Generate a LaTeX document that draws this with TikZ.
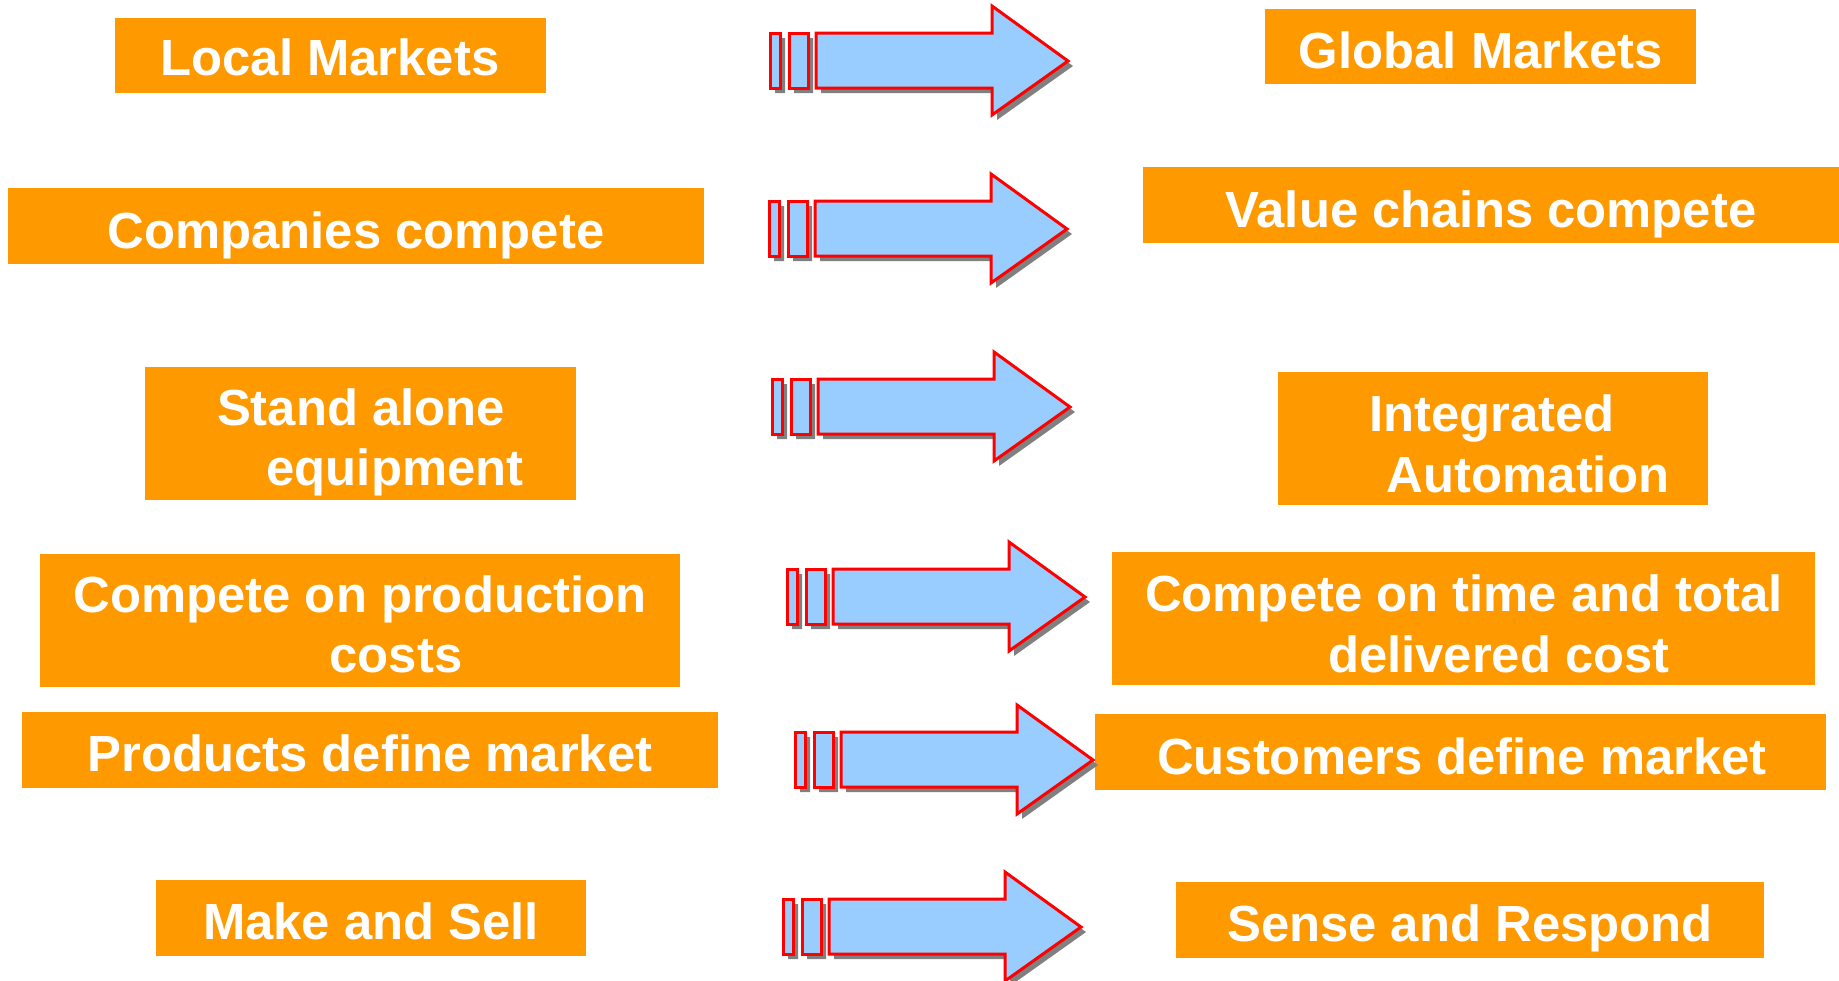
\documentclass[tikz,border=0pt]{standalone}
\usepackage{fontspec}
\setmainfont{Liberation Sans}
\definecolor{boxorange}{HTML}{FF9900}
\definecolor{arrowblue}{HTML}{99CCFF}
\definecolor{arrowred}{HTML}{FF0000}
\definecolor{shadowgray}{HTML}{808080}
\tikzset{
  box/.style={fill=boxorange, draw=none},
  lbl/.style={text=white, inner sep=0pt, anchor=base, font=\bfseries\fontsize{50.8}{60}\selectfont},
  arrowst/.style={fill=arrowblue, draw=arrowred, line width=3pt, line join=miter},
  pics/fatarrow/.style={code={
    \fill[shadowgray, shift={(5,5)}]
      (0,-28) rectangle (10,27) (19,-28) rectangle (38,27)
      (46,-28) -- (222,-28) -- (222,-55) -- (298,0) -- (222,54) -- (222,27) -- (46,27) -- cycle;
    \filldraw[arrowst] (0,-28) rectangle (10,27);
    \filldraw[arrowst] (19,-28) rectangle (38,27);
    \filldraw[arrowst] (46,-28) -- (222,-28) -- (222,-55) -- (298,0) -- (222,54) -- (222,27) -- (46,27) -- cycle;
  }}
}
\begin{document}
\begin{tikzpicture}[x=1pt, y=-1pt]
\useasboundingbox (0,0) rectangle (1839,980);
% boxes
\path[box] (115,18) rectangle (546,93) coordinate (b1);
\path[box] (1265,9) rectangle (1696,84) coordinate (b2);
\path[box] (8,188) rectangle (704,264) coordinate (b3);
\path[box] (1143,167) rectangle (1839,243) coordinate (b4);
\path[box] (145,367) rectangle (576,500) coordinate (b5);
\path[box] (1278,372) rectangle (1708,505) coordinate (b6);
\path[box] (40,554) rectangle (680,687) coordinate (b7);
\path[box] (1112,552) rectangle (1815,685) coordinate (b8);
\path[box] (22,712) rectangle (718,788) coordinate (b9);
\path[box] (1095,714) rectangle (1826,790) coordinate (b10);
\path[box] (156,880) rectangle (586,956) coordinate (b11);
\path[box] (1176,882) rectangle (1764,958) coordinate (b12);
% labels
\node[lbl] (t1) at (330,75) {Local Markets};
\node[lbl] (t2) at (1481,68) {Global Markets};
\node[lbl] (t3) at (356,248) {Companies compete};
\node[lbl] (t4) at (1491,227) {Value chains compete};
\node[lbl] (t5a) at (361,425) {Stand alone};
\node[lbl] (t5b) at (395,485) {equipment};
\node[lbl] (t6a) at (1492,431) {Integrated};
\node[lbl] (t6b) at (1528,492) {Automation};
\node[lbl] (t7a) at (360,612) {Compete on production};
\node[lbl] (t7b) at (396,672) {costs};
\node[lbl] (t8a) at (1464,611) {Compete on time and total};
\node[lbl] (t8b) at (1499,672) {delivered cost};
\node[lbl] (t9) at (370,771) {Products define market};
\node[lbl] (t10) at (1462,774) {Customers define market};
\node[lbl] (t11) at (371,939) {Make and Sell};
\node[lbl] (t12) at (1470,941) {Sense and Respond};
% arrows
\pic at (770,61) {fatarrow};
\pic at (769,229) {fatarrow};
\pic at (772,407) {fatarrow};
\pic at (787,597) {fatarrow};
\pic at (795,760) {fatarrow};
\pic at (783,927) {fatarrow};
\end{tikzpicture}
\end{document}
